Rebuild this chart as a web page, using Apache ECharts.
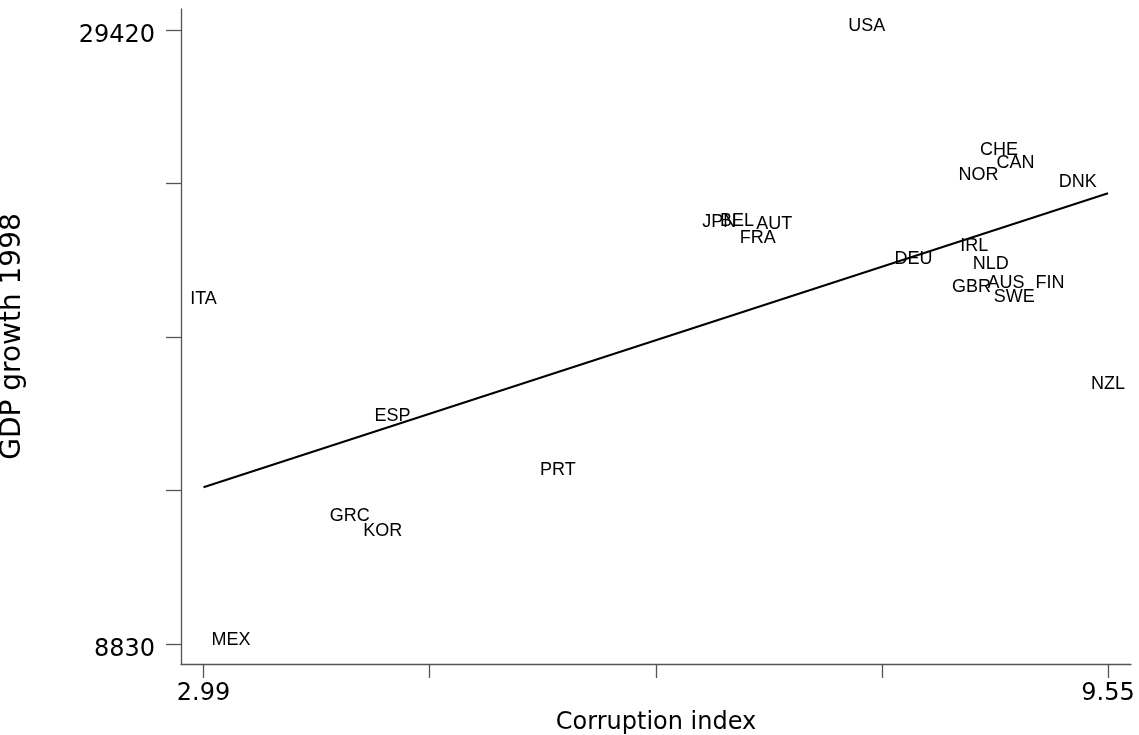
<!DOCTYPE html>
<html>
<head>
<meta charset="utf-8">
<script src="https://cdn.jsdelivr.net/npm/echarts@6/dist/echarts.min.js"></script>
<style>
html,body{margin:0;padding:0;background:#fff;}
#chart{width:1139px;height:735px;}
</style>
</head>
<body>
<div id="chart"></div>
<script>
// Country codes (labels drawn centred on each point)
const countries = ["ITA","MEX","USA","NZL","CHE","CAN","NOR","DNK","IRL","DEU","NLD","GBR","AUS","FIN","SWE","JPN","BEL","AUT","FRA","ESP","PRT","GRC","KOR"];
// Corruption index (x)
const corruption = [2.99,3.19,7.80,9.55,8.76,8.88,8.61,9.33,8.58,8.14,8.70,8.56,8.81,9.13,8.87,6.73,6.86,7.13,7.01,4.36,5.56,4.05,4.29];
// GDP 1998 (y)
const gdp = [20280,8830,29420,17410,25245,24815,24420,24200,22030,21600,21445,20675,20785,20785,20325,22855,22890,22785,22305,16335,14525,12980,12485];
// Fitted line end points
const fitX = [2.99, 9.55];
const fitY = [14085, 23944];
// Axis ticks and labels
const xTicks = [2.99, 4.63, 6.27, 7.91, 9.55];
const xTickLabels = [2.99, 9.55];
const yTicks = [8830, 13977.5, 19125, 24272.5, 29420];
const yTickLabels = [8830, 29420];

const chart = echarts.init(document.getElementById('chart'), null, {renderer:'canvas'});
const axisFont = 'DejaVu Sans';
const axisColor = '#555';

chart.setOption({
  animation: false,
  backgroundColor: '#fff',
  grid: {left: 181, right: 8, top: 9, bottom: 71, containLabel: false, outerBoundsMode: 'none'},
  xAxis: {
    type: 'value',
    min: 2.8268, max: 9.7168,
    name: 'Corruption index',
    nameLocation: 'middle',
    nameGap: 30,
    nameTextStyle: {fontFamily: axisFont, fontSize: 24, color: '#000'},
    axisLine: {show: true, onZero: false, lineStyle: {color: axisColor, width: 1.3}},
    axisTick: {show: true, length: 14, customValues: xTicks, lineStyle: {color: axisColor, width: 1.3}},
    axisLabel: {show: true, margin: 18, customValues: xTickLabels, fontFamily: axisFont, fontSize: 24, color: '#000',
      formatter: v => v.toFixed(2)},
    splitLine: {show: false}
  },
  yAxis: {
    type: 'value',
    min: 8159, max: 30124,
    name: 'GDP growth 1998',
    nameLocation: 'middle',
    nameGap: 154,
    nameTextStyle: {fontFamily: axisFont, fontSize: 28, color: '#000'},
    axisLine: {show: true, onZero: false, lineStyle: {color: axisColor, width: 1.3}},
    axisTick: {show: true, length: 15, customValues: yTicks, lineStyle: {color: axisColor, width: 1.3}},
    axisLabel: {show: true, margin: 26, customValues: yTickLabels, fontFamily: axisFont, fontSize: 24, color: '#000',
      verticalAlign: 'top', lineHeight: 12, formatter: v => String(Math.round(v))},
    splitLine: {show: false}
  },
  series: [
    {
      type: 'line',
      data: fitX.map((x, i) => [x, fitY[i]]),
      showSymbol: false,
      symbol: 'none',
      lineStyle: {color: '#000', width: 2},
      silent: true,
      z: 2
    },
    {
      type: 'scatter',
      data: countries.map((c, i) => ({name: c, value: [corruption[i], gdp[i]]})),
      symbolSize: 0.1,
      itemStyle: {color: 'rgba(0,0,0,0)', opacity: 1},
      label: {
        show: true,
        position: 'inside',
        formatter: p => p.name,
        fontFamily: 'Liberation Sans',
        fontSize: 18,
        color: '#000',
        opacity: 1,
        textBorderWidth: 0
      },
      labelLayout: {hideOverlap: false, dy: -4},
      z: 3
    }
  ]
});
</script>
</body>
</html>
